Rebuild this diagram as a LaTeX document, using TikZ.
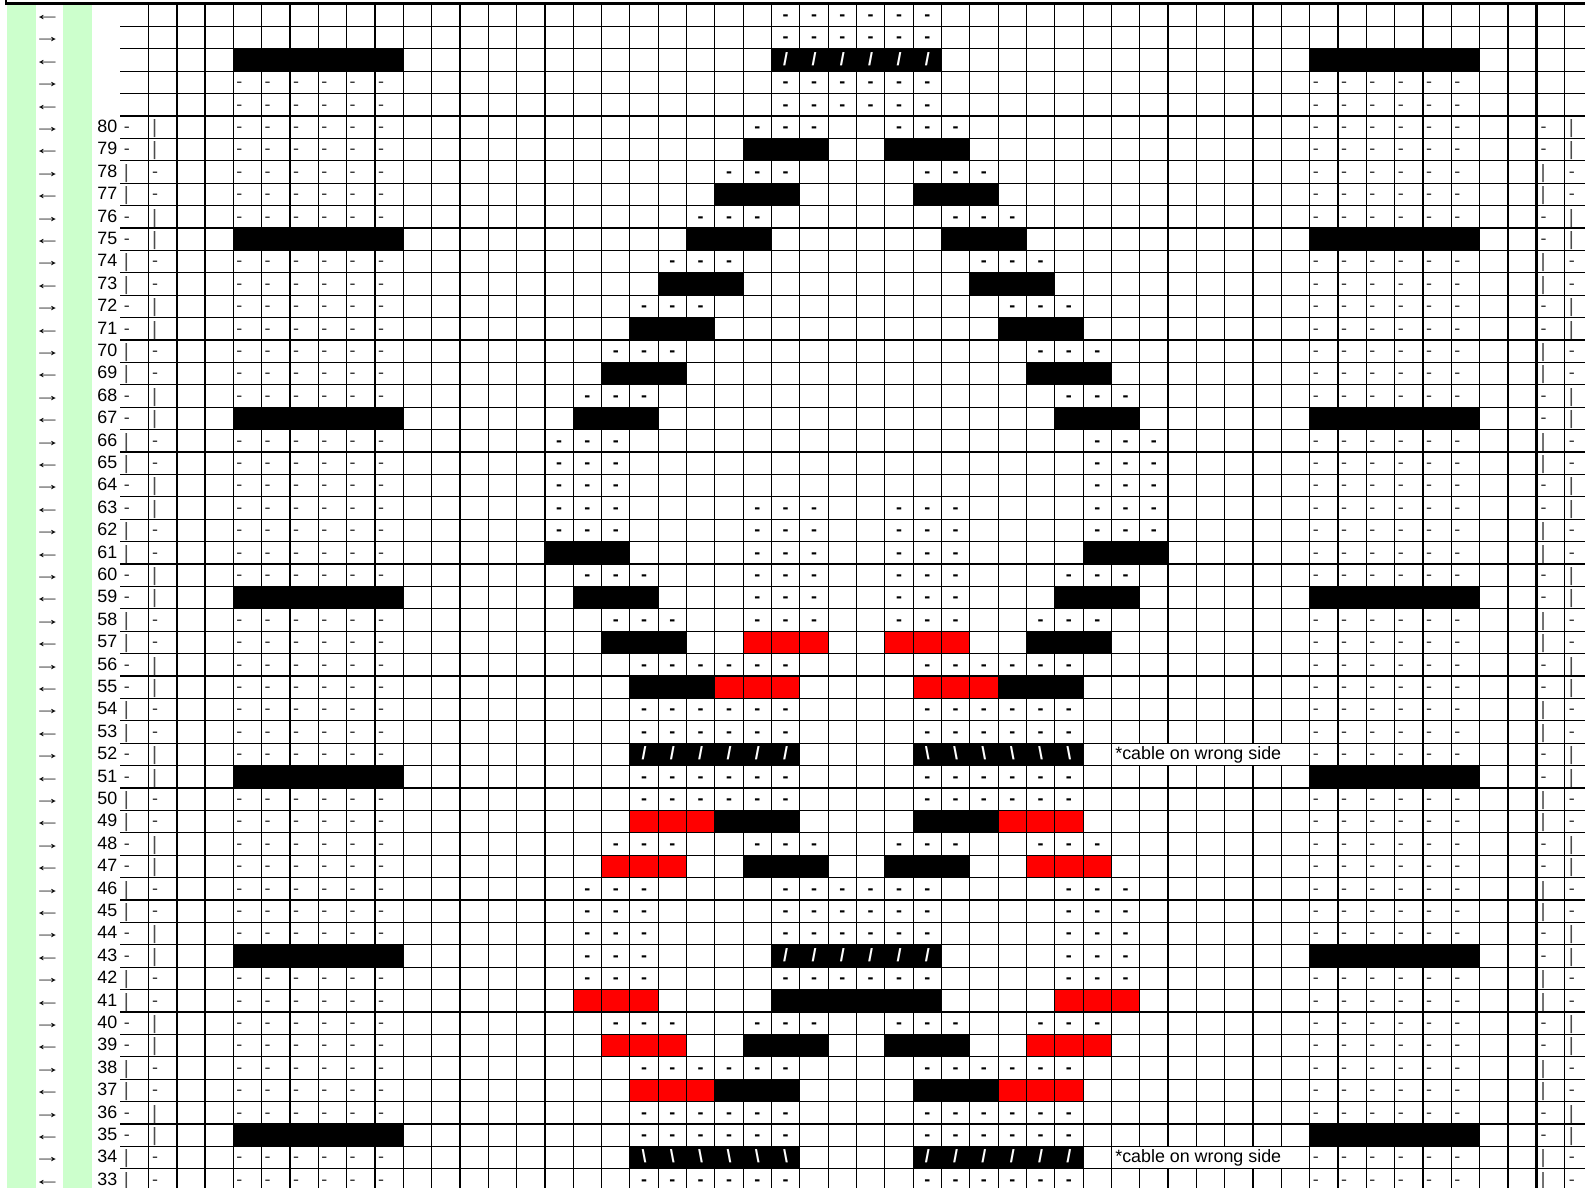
\documentclass[tikz,border=0pt]{standalone}
\usepackage{fontspec}
\setmainfont{Liberation Sans}
\definecolor{lgreen}{HTML}{CCFFCC}
\definecolor{xred}{HTML}{FF0000}
\begin{document}
\begin{tikzpicture}[x=0.75pt,y=-0.75pt,
  declare function={cx(\c)=176.7+28.325*\c; ry(\r)=4+22.4*\r;},
  font=\fontsize{13.4}{16}\selectfont,
  txt/.style={inner sep=0pt,anchor=base},
  ldash/.style={inner sep=0pt,anchor=base west,text=black!80},
  lbar/.style={inner sep=0pt,anchor=base west,text=black!70,font=\fontsize{14.5}{16}\selectfont},
  mdash/.style={inner sep=0pt,anchor=base,font=\fontsize{13.4}{16}\selectfont\bfseries},
  cab/.style={inner sep=0pt,anchor=base,text=white,font=\fontsize{13.4}{16}\selectfont\bfseries},
  gridline/.style={line width=0.85pt},
  gridthick/.style={line width=1.8pt},
  blackcell/.style={fill=black},
  redcell/.style={fill=xred}]
\useasboundingbox (0,0) rectangle (1585,1188);
\clip (0,0) rectangle (1585,1188);
% green columns
\fill[lgreen] (6.7,4.7) rectangle (36,1188);
\fill[lgreen] (63,4.7) rectangle (92,1188);
% left / right section black bars
\foreach \r in {2,10,...,50} {
  \path[blackcell] ({cx(2)},{ry(\r)}) rectangle ({cx(8)},{ry(\r+1)});
  \path[blackcell] ({cx(40)},{ry(\r)}) rectangle ({cx(46)},{ry(\r+1)});
}
% middle black cells (left half, mirrored)
\foreach \r/\a/\b in {6/7/9,8/6/8,10/5/7,12/4/6,14/3/5,16/2/4,18/1/3,24/0/2,26/1/3,28/2/4,30/3/5,36/6/8,38/7/9,44/8/10,46/7/9,48/6/8} {
  \path[blackcell] ({cx(13+\a)},{ry(\r)}) rectangle ({cx(14+\b)},{ry(\r+1)});
  \path[blackcell] ({cx(34-\b)},{ry(\r)}) rectangle ({cx(35-\a)},{ry(\r+1)});
}
% red cells
\foreach \r/\a/\b in {28/7/9,30/6/8,36/3/5,38/2/4,44/1/3,46/2/4,48/3/5} {
  \path[redcell] ({cx(13+\a)},{ry(\r)}) rectangle ({cx(14+\b)},{ry(\r+1)});
  \path[redcell] ({cx(34-\b)},{ry(\r)}) rectangle ({cx(35-\a)},{ry(\r+1)});
}
% cable rows
\foreach \r in {2,42} {
  \path[blackcell] ({cx(21)},{ry(\r)}) rectangle ({cx(27)},{ry(\r+1)});
}
\foreach \r in {33,51} {
  \path[blackcell] ({cx(16)},{ry(\r)}) rectangle ({cx(22)},{ry(\r+1)});
  \path[blackcell] ({cx(26)},{ry(\r)}) rectangle ({cx(32)},{ry(\r+1)});
}
% grid lines
\foreach \k in {1,...,53} {
  \draw[gridline] (120,{ry(\k)}) -- (1585,{ry(\k)});
}
\foreach \c in {-1,1,2,3,4,5,6,7,8,9,10,11,12,14,15,16,17,18,19,20,21,22,23,24,25,26,27,28,29,30,31,32,33,34,36,37,38,39,40,41,42,43,44,45,46,47,49} {
  \draw[gridline] ({cx(\c)},4) -- ({cx(\c)},1188);
}
\foreach \c in {0,13,35,48} {
  \draw[gridthick] ({cx(\c)},4) -- ({cx(\c)},1188);
}
\draw[gridthick] (5.8,0) -- (5.8,3.7) -- (1585,3.7);
% white boxes for notes
\foreach \r in {33,51} {
  \fill[white] ({cx(33)+0.6},{ry(\r)+0.6}) rectangle ({cx(40)-0.6},{ry(\r+1)-0.6});
  \node[inner sep=0pt,anchor=base west] (note\r) at ({cx(33)+3.6},{ry(\r)+16.5}) {*cable on wrong side};
}
% arrows
\foreach \r in {0,2,...,52} {
  \node[txt] (arr\r) at (47.5,{ry(\r)+16.5}) {\scalebox{1.55}[1]{←}};
}
\foreach \r in {1,3,...,51} {
  \node[txt] (arr\r) at (47.5,{ry(\r)+16.5}) {\scalebox{1.55}[1]{→}};
}
% row numbers and side marks
\foreach \r in {5,...,52} {
  \pgfmathtruncatemacro\n{85-\r}
  \pgfmathtruncatemacro\p{mod(\r-5,4)}
  \node[txt,anchor=base east] (num\r) at (117.5,{ry(\r)+16.5}) {\n};
  \ifnum\p<2
    \node[ldash] (la\r) at ({cx(-2)+3.5},{ry(\r)+16.5}) {-};
    \node[lbar] (lb\r) at ({cx(-1)+3.5},{ry(\r)+17.5}) {|};
    \node[ldash] (ra\r) at ({cx(48)+4},{ry(\r)+16.5}) {-};
    \node[lbar] (rb\r) at ({cx(49)+4},{ry(\r)+17.5}) {|};
  \else
    \node[lbar] (la\r) at ({cx(-2)+3.5},{ry(\r)+17.5}) {|};
    \node[ldash] (lb\r) at ({cx(-1)+3.5},{ry(\r)+16.5}) {-};
    \node[lbar] (ra\r) at ({cx(48)+4},{ry(\r)+17.5}) {|};
    \node[ldash] (rb\r) at ({cx(49)+4},{ry(\r)+16.5}) {-};
  \fi
}
% left / right section dashes
\foreach \r in {3,...,52} {
  \pgfmathtruncatemacro\q{mod(\r,8)}
  \ifnum\q=2 \else
    \foreach \c in {2,...,7} {
      \node[ldash] (sl-\r-\c) at ({cx(\c)+2.8},{ry(\r)+16.5}) {-};
      \node[ldash] (sr-\r-\c) at ({cx(\c+38)+2.8},{ry(\r)+16.5}) {-};
    }
  \fi
}
% middle dashes (left half, mirrored)
\foreach \r/\a/\b in {0/8/10,1/8/10,3/8/10,4/8/10,5/7/9,7/6/8,9/5/7,11/4/6,13/3/5,15/2/4,17/1/3,19/0/2,20/0/2,21/0/2,22/0/2,22/7/9,23/0/2,23/7/9,24/7/9,25/1/3,25/7/9,26/7/9,27/2/4,27/7/9,29/3/8,31/3/8,32/3/8,34/3/8,35/3/8,37/2/4,37/7/9,39/1/3,39/8/10,40/1/3,40/8/10,41/1/3,41/8/10,42/1/3,43/1/3,43/8/10,45/2/4,45/7/9,47/3/8,49/3/8,50/3/8,52/3/8} {
  \foreach \m in {\a,...,\b} {
    \node[mdash] (md-\r-\m) at ({cx(13+\m)+14.16},{ry(\r)+16.5}) {-};
    \node[mdash] (me-\r-\m) at ({cx(34-\m)+14.16},{ry(\r)+16.5}) {-};
  }
}
% cable symbols
\foreach \r in {2,42} {
  \foreach \c in {21,...,26} {
    \node[cab] (cb-\r-\c) at ({cx(\c)+14.16},{ry(\r)+16.5}) {/};
  }
}
\foreach \c in {16,...,21} {
  \node[cab] (cb-33-\c) at ({cx(\c)+14.16},{ry(33)+16.5}) {/};
  \node[cab] (cb-51-\c) at ({cx(\c)+14.16},{ry(51)+16.5}) {\textbackslash};
}
\foreach \c in {26,...,31} {
  \node[cab] (cb-33-\c) at ({cx(\c)+14.16},{ry(33)+16.5}) {\textbackslash};
  \node[cab] (cb-51-\c) at ({cx(\c)+14.16},{ry(51)+16.5}) {/};
}
\end{tikzpicture}
\end{document}
